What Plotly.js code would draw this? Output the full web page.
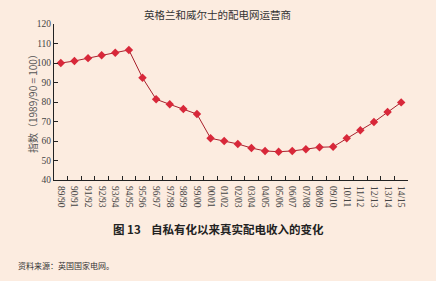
<!DOCTYPE html>
<html><head><meta charset="utf-8">
<script src="https://cdn.plot.ly/plotly-3.0.1.min.js"></script>
<style>html,body{margin:0;padding:0;background:#fff;}#c{width:444px;height:285px;}</style>
</head><body><div id="c"></div>
<script>
var categories = ["89/90","90/91","91/92","92/93","93/94","94/95","95/96","96/97","97/98","98/99","99/00","00/01","01/02","02/03","03/04","04/05","05/06","06/07","07/08","08/09","09/10","10/11","11/12","12/13","13/14","14/15"];
var values = [100,101,102.5,104,105.3,106.7,92.4,81.4,78.8,76.4,73.8,61.4,60,58.5,56.4,54.9,54.5,54.9,55.8,56.8,57,61.4,65.5,69.7,74.9,79.8];
var yTicks = [40,50,60,70,80,90,100,110,120];

var bg = "#fcece0";
var serif = "Liberation Serif, DejaVu Serif, serif";
var cjk = "Noto Sans CJK SC, sans-serif";

var L = 54, R = 36, T = 24, B = 105, W = 444, H = 285;
var pw = W - L - R, ph = H - T - B;
function px(x){ return (x - L) / pw; }
function py(y){ return (H - B - y) / ph; }

var trace = {
  x: categories, y: values, type: "scatter", mode: "lines+markers",
  line: {color: "#a8202c", width: 1},
  marker: {symbol: "diamond", size: 6.5, color: "#d8283a"},
  hoverinfo: "skip"
};

var layout = {
  width: W, height: H,
  margin: {l: L, r: R, t: T, b: B, pad: 0},
  paper_bgcolor: "#ffffff", plot_bgcolor: "rgba(0,0,0,0)",
  showlegend: false,
  xaxis: {
    type: "category", range: [-0.5, categories.length - 0.5],
    showline: true, linecolor: "#222", linewidth: 1,
    ticks: "inside", tickson: "boundaries", ticklen: 4, tickcolor: "#222",
    tickangle: 90, tickfont: {family: serif, size: 9.5, color: "#444"},
    ticklabelstandoff: 3,
    showgrid: false, zeroline: false, fixedrange: true
  },
  yaxis: {
    range: [40, 120], tickvals: yTicks,
    showline: true, linecolor: "#222", linewidth: 1,
    ticks: "inside", ticklen: 4, tickcolor: "#222",
    tickfont: {family: serif, size: 9.5, color: "#444"},
    showgrid: false, zeroline: false, fixedrange: true
  },
  shapes: [{
    type: "rect", xref: "paper", yref: "paper", layer: "below",
    x0: px(0), x1: px(436), y0: py(281), y1: py(0),
    fillcolor: bg, line: {width: 0}
  }],
  annotations: [
    {text: "英格兰和威尔士的配电网运营商", xref: "paper", yref: "paper", x: px(217), y: py(15),
     showarrow: false, font: {family: cjk, size: 10.5, color: "#333"}, xanchor: "center", yanchor: "middle"},
    {text: "指数（1989/90 = 100）", xref: "paper", yref: "paper", x: px(32), y: py(101), textangle: -90,
     showarrow: false, font: {family: cjk, size: 10, color: "#555"}, xanchor: "center", yanchor: "middle"},
    {text: "<b>图 13    自私有化以来真实配电收入的变化</b>", xref: "paper", yref: "paper", x: px(218), y: py(229),
     showarrow: false, font: {family: cjk, size: 11.5, color: "#222"}, xanchor: "center", yanchor: "middle"},
    {text: "资料来源：英国国家电网。", xref: "paper", yref: "paper", x: px(16), y: py(265),
     showarrow: false, font: {family: cjk, size: 8, color: "#333"}, xanchor: "left", yanchor: "middle"}
  ]
};

Plotly.newPlot("c", [trace], layout, {staticPlot: true, displayModeBar: false});
</script></body></html>
